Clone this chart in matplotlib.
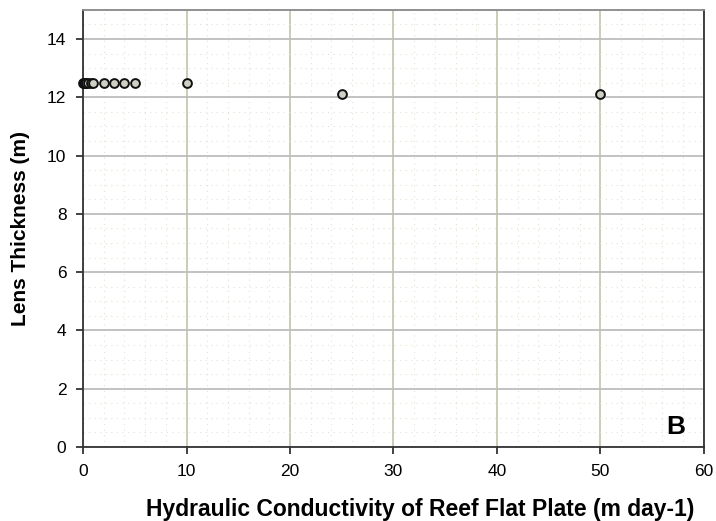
import matplotlib
matplotlib.use('Agg')
import matplotlib.pyplot as plt
from matplotlib.ticker import MultipleLocator

plt.rcParams['font.family'] = ['Liberation Sans', 'DejaVu Sans']

# hydraulic conductivity (m/day) vs lens thickness (m)
conductivity = [0.01, 0.05, 0.1, 0.2, 0.3, 0.5, 0.8, 1, 2, 3, 4, 5, 10, 25, 50]
thickness = [12.5, 12.5, 12.5, 12.5, 12.5, 12.5, 12.5, 12.5, 12.5, 12.5, 12.5, 12.5, 12.5, 12.1, 12.1]

fig = plt.figure(figsize=(7.16, 5.21), dpi=100)
ax = fig.add_axes([0.116, 0.142, 0.867, 0.839])

ax.set_xlim(0, 60)
ax.set_ylim(0, 15)
ax.xaxis.set_major_locator(MultipleLocator(10))
ax.yaxis.set_major_locator(MultipleLocator(2))
ax.xaxis.set_minor_locator(MultipleLocator(2))
ax.yaxis.set_minor_locator(MultipleLocator(0.5))

ax.grid(which='minor', axis='both', color='#e2e2d4', linestyle=(0, (1, 4)), linewidth=0.8)
ax.grid(which='major', axis='y', color='#bdbdbd', linewidth=1.3)
ax.grid(which='major', axis='x', color='#c8c8b0', linewidth=1.3)
ax.set_axisbelow(True)

ax.scatter(conductivity, thickness, s=40, facecolor='#cfcfc4', edgecolor='#111111',
           linewidth=1.4, zorder=3, clip_on=False)

for s in ax.spines.values():
    s.set_color('#333333')
    s.set_linewidth(1.3)
ax.spines['top'].set_color('#888888')

ax.tick_params(which='major', direction='out', length=5, width=1.2, labelsize=12.5,
               color='#222222', pad=7)
ax.tick_params(which='minor', length=0)
ax.tick_params(top=False, right=False)

ax.set_xlabel('Hydraulic Conductivity of Reef Flat Plate (m day-1)', fontsize=16.5,
              fontweight='bold', labelpad=14, x=0.543)
ax.set_ylabel('Lens Thickness (m)', fontsize=15, fontweight='bold', labelpad=12)

ax.text(0.955, 0.045, 'B', transform=ax.transAxes, fontsize=19, fontweight='bold',
        ha='center', va='center')

fig.savefig('out.png', dpi=100)
